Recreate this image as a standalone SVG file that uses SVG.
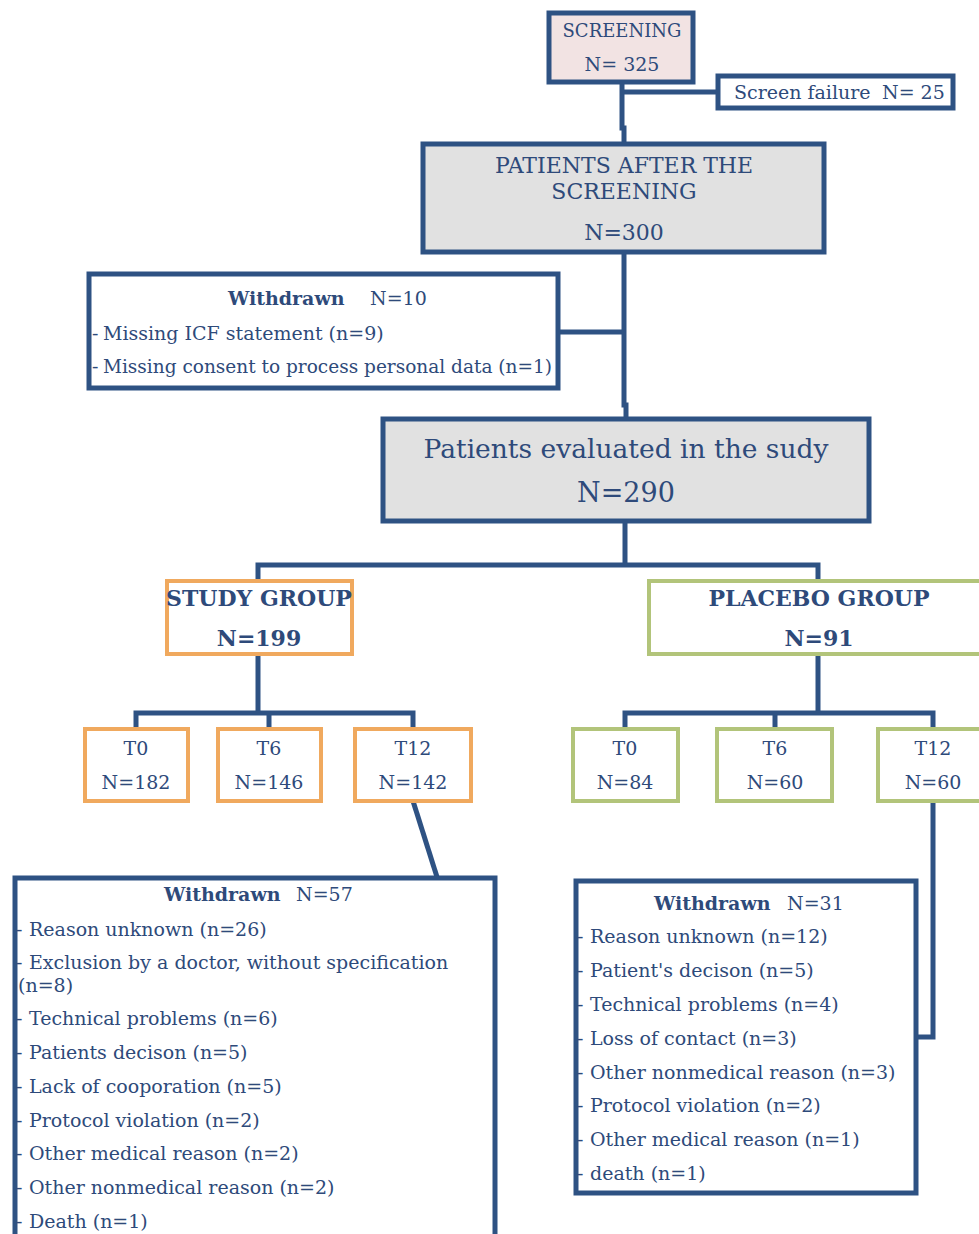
<svg xmlns="http://www.w3.org/2000/svg" width="979" height="1234" viewBox="0 0 979 1234">
<style>
text{font-family:"DejaVu Serif","Liberation Serif",serif;fill:#2E4A7A;font-size:19px}
.c{text-anchor:middle}
.b{font-weight:bold}
.box{stroke:#2E5283;stroke-width:5;fill:#fff}
.gray{fill:#E1E1E1}
.pink{fill:#F2E3E3}
.or{stroke:#F0A95E;stroke-width:4;fill:#fff}
.gr{stroke:#B2C47A;stroke-width:4;fill:#fff}
.con{stroke:#2E5283;stroke-width:5;fill:none}
</style>
<rect width="979" height="1234" fill="#fff"/>
<g id="connectors">
<path class="con" d="M622 82V128H624V143"/>
<path class="con" d="M622 92H717"/>
<path class="con" d="M624 252V405H626V418"/>
<path class="con" d="M558 332H624"/>
<path class="con" d="M625 521V565M258 580V565H818V580"/>
<path class="con" d="M258 654V713M136 728V713H413V728M269 713V728"/>
<path class="con" d="M818 654V713M625 728V713H933V728M775 713V728"/>
<path class="con" d="M413 801L437 877"/>
<path class="con" d="M933 801V1037H916"/>
</g>
<g id="screening">
<rect class="box pink" x="549" y="13" width="144" height="69"/>
<text class="c" x="622" y="37" style="font-size:18px">SCREENING</text>
<text class="c" x="622" y="71">N= 325</text>
</g>
<g id="screen-failure">
<rect class="box" x="718" y="76" width="235" height="32"/>
<text x="734" y="99">Screen failure<tspan x="882">N= 25</tspan></text>
</g>
<g id="after-screening">
<rect class="box gray" x="423" y="144" width="401" height="108"/>
<text class="c" x="624" y="173" style="font-size:22px">PATIENTS AFTER THE</text>
<text class="c" x="624" y="199" style="font-size:22px">SCREENING</text>
<text class="c" x="624" y="240" style="font-size:22px">N=300</text>
</g>
<g id="withdrawn-10">
<rect class="box" x="89" y="274" width="469" height="114"/>
<text x="228" y="305"><tspan class="b">Withdrawn</tspan><tspan x="370">N=10</tspan></text>
<text y="340"><tspan x="92">-</tspan><tspan x="103">Missing ICF statement (n=9)</tspan></text>
<text y="373"><tspan x="92">-</tspan><tspan x="103" textLength="449" lengthAdjust="spacingAndGlyphs">Missing consent to process personal data (n=1)</tspan></text>
</g>
<g id="evaluated">
<rect class="box gray" x="383" y="419" width="486" height="102"/>
<text class="c" x="626" y="458" style="font-size:26.5px">Patients evaluated in the sudy</text>
<text class="c" x="626" y="502" style="font-size:27px">N=290</text>
</g>
<g id="study-group">
<rect class="or" x="167" y="581" width="185" height="73"/>
<text class="c b" x="259" y="606" style="font-size:22px">STUDY GROUP</text>
<text class="c b" x="259" y="646" style="font-size:22px">N=199</text>
</g>
<g id="placebo-group">
<rect class="gr" x="649" y="581" width="340" height="73"/>
<text class="c b" x="819" y="606" style="font-size:22px">PLACEBO GROUP</text>
<text class="c b" x="819" y="646" style="font-size:22px">N=91</text>
</g>
<g id="s-t0">
<rect class="or" x="85" y="729" width="103" height="72"/>
<text class="c" x="136" y="755">T0</text>
<text class="c" x="136" y="789">N=182</text>
</g>
<g id="s-t6">
<rect class="or" x="218" y="729" width="103" height="72"/>
<text class="c" x="269" y="755">T6</text>
<text class="c" x="269" y="789">N=146</text>
</g>
<g id="s-t12">
<rect class="or" x="355" y="729" width="116" height="72"/>
<text class="c" x="413" y="755">T12</text>
<text class="c" x="413" y="789">N=142</text>
</g>
<g id="p-t0">
<rect class="gr" x="573" y="729" width="105" height="72"/>
<text class="c" x="625" y="755">T0</text>
<text class="c" x="625" y="789">N=84</text>
</g>
<g id="p-t6">
<rect class="gr" x="717" y="729" width="115" height="72"/>
<text class="c" x="775" y="755">T6</text>
<text class="c" x="775" y="789">N=60</text>
</g>
<g id="p-t12">
<rect class="gr" x="878" y="729" width="110" height="72"/>
<text class="c" x="933" y="755">T12</text>
<text class="c" x="933" y="789">N=60</text>
</g>
<g id="withdrawn-57">
<rect class="box" x="15" y="878" width="480" height="370"/>
<text x="164" y="901"><tspan class="b">Withdrawn</tspan><tspan x="296">N=57</tspan></text>
<text y="936"><tspan x="16">-</tspan><tspan x="29">Reason unknown (n=26)</tspan></text>
<text y="969"><tspan x="16">-</tspan><tspan x="29">Exclusion by a doctor, without specification</tspan></text>
<text x="18" y="992">(n=8)</text>
<text y="1025"><tspan x="16">-</tspan><tspan x="29">Technical problems (n=6)</tspan></text>
<text y="1059"><tspan x="16">-</tspan><tspan x="29">Patients decison (n=5)</tspan></text>
<text y="1093"><tspan x="16">-</tspan><tspan x="29">Lack of cooporation (n=5)</tspan></text>
<text y="1127"><tspan x="16">-</tspan><tspan x="29">Protocol violation (n=2)</tspan></text>
<text y="1160"><tspan x="16">-</tspan><tspan x="29">Other medical reason (n=2)</tspan></text>
<text y="1194"><tspan x="16">-</tspan><tspan x="29">Other nonmedical reason (n=2)</tspan></text>
<text y="1228"><tspan x="16">-</tspan><tspan x="29">Death (n=1)</tspan></text>
</g>
<g id="withdrawn-31">
<rect class="box" x="576" y="881" width="340" height="312"/>
<text x="654" y="910"><tspan class="b">Withdrawn</tspan><tspan x="787">N=31</tspan></text>
<text y="943"><tspan x="577">-</tspan><tspan x="590">Reason unknown (n=12)</tspan></text>
<text y="977"><tspan x="577">-</tspan><tspan x="590">Patient's decison (n=5)</tspan></text>
<text y="1011"><tspan x="577">-</tspan><tspan x="590">Technical problems (n=4)</tspan></text>
<text y="1045"><tspan x="577">-</tspan><tspan x="590">Loss of contact (n=3)</tspan></text>
<text y="1079"><tspan x="577">-</tspan><tspan x="590">Other nonmedical reason (n=3)</tspan></text>
<text y="1112"><tspan x="577">-</tspan><tspan x="590">Protocol violation (n=2)</tspan></text>
<text y="1146"><tspan x="577">-</tspan><tspan x="590">Other medical reason (n=1)</tspan></text>
<text y="1180"><tspan x="577">-</tspan><tspan x="590">death (n=1)</tspan></text>
</g>
</svg>
